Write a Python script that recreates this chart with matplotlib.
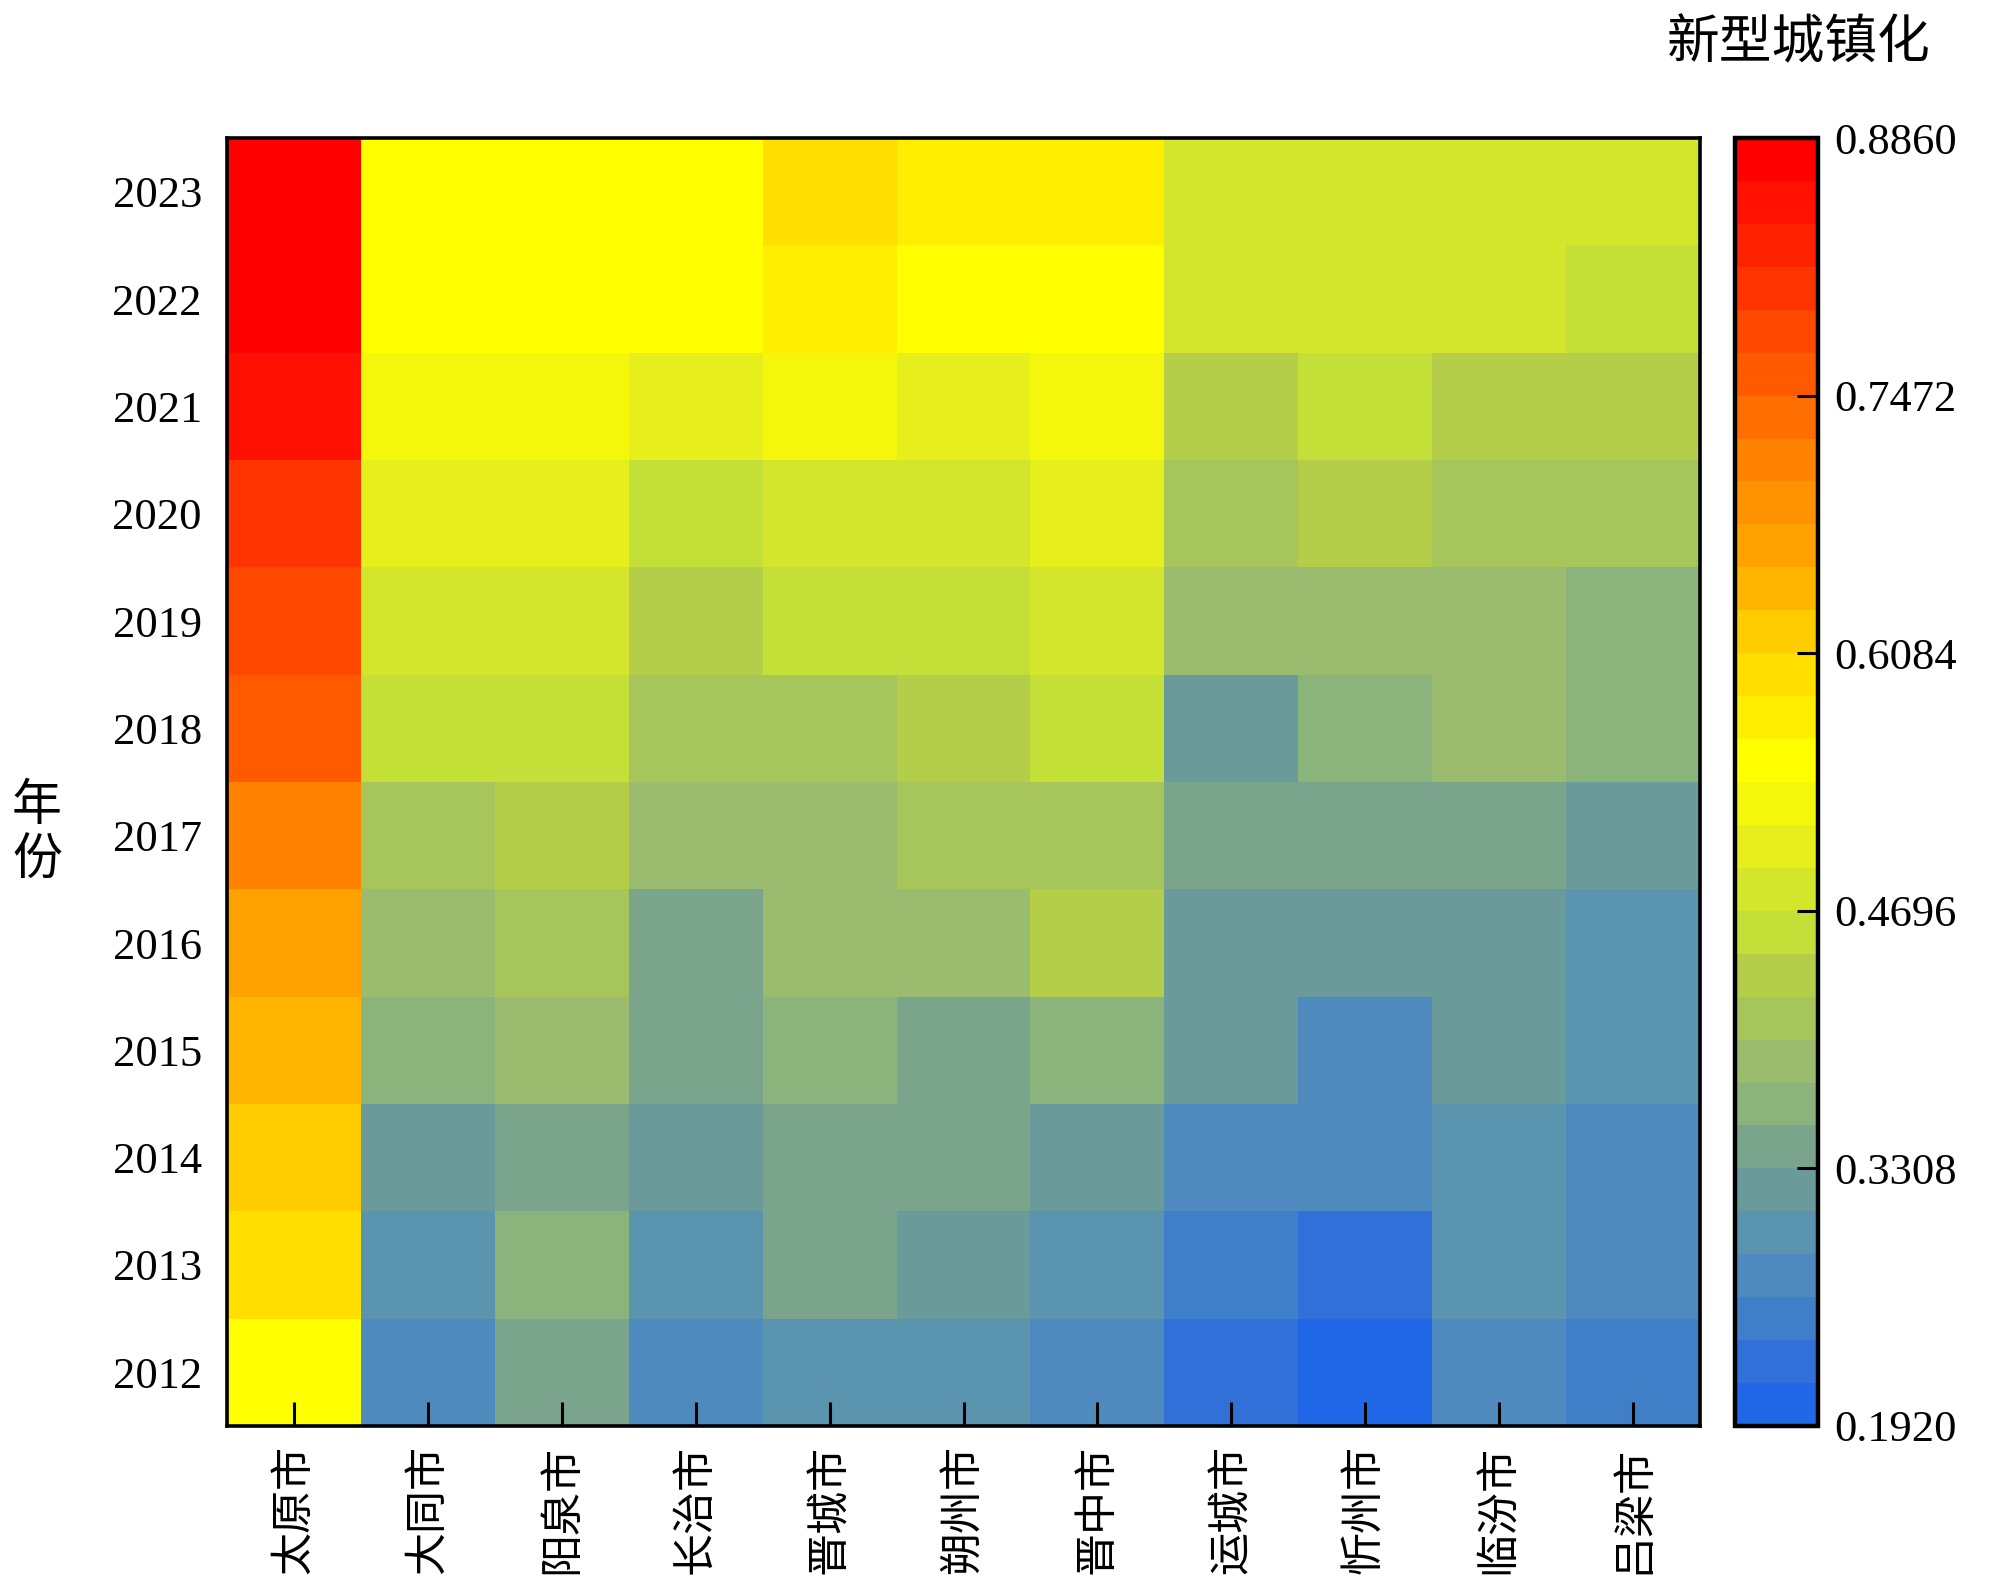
import numpy as np
import matplotlib
matplotlib.use("Agg")
import matplotlib.pyplot as plt
from matplotlib.colors import ListedColormap, BoundaryNorm

CJK = "Noto Sans CJK SC"
SERIF = "Liberation Serif"

cities = ["太原市", "大同市", "阳泉市", "长治市", "晋城市", "朔州市",
          "晋中市", "运城市", "忻州市", "临汾市", "吕梁市"]
years = [2012, 2013, 2014, 2015, 2016, 2017, 2018, 2019, 2020, 2021, 2022, 2023]

# 新型城镇化 index, 2012 -> 2023
taiyuan  = [0.551, 0.598, 0.621, 0.644, 0.667, 0.713, 0.759, 0.781, 0.806, 0.852, 0.875, 0.886]
datong   = [0.273, 0.297, 0.319, 0.366, 0.388, 0.412, 0.459, 0.482, 0.504, 0.528, 0.551, 0.552]
yangquan = [0.343, 0.365, 0.341, 0.389, 0.411, 0.435, 0.457, 0.480, 0.503, 0.527, 0.550, 0.553]
changzhi = [0.274, 0.296, 0.320, 0.342, 0.344, 0.388, 0.413, 0.434, 0.458, 0.505, 0.549, 0.551]
jincheng = [0.297, 0.342, 0.343, 0.365, 0.387, 0.390, 0.411, 0.459, 0.481, 0.526, 0.574, 0.597]
shuozhou = [0.296, 0.318, 0.342, 0.344, 0.389, 0.412, 0.435, 0.457, 0.482, 0.504, 0.551, 0.573]
jinzhong = [0.272, 0.295, 0.320, 0.366, 0.434, 0.411, 0.458, 0.481, 0.505, 0.527, 0.552, 0.575]
yuncheng = [0.227, 0.250, 0.273, 0.318, 0.320, 0.343, 0.319, 0.388, 0.412, 0.434, 0.480, 0.482]
xinzhou  = [0.192, 0.226, 0.272, 0.274, 0.319, 0.342, 0.366, 0.389, 0.435, 0.458, 0.481, 0.483]
linfen   = [0.273, 0.296, 0.297, 0.318, 0.320, 0.344, 0.387, 0.389, 0.411, 0.435, 0.480, 0.482]
lvliang  = [0.250, 0.272, 0.274, 0.295, 0.297, 0.319, 0.365, 0.367, 0.412, 0.433, 0.457, 0.481]

series = [taiyuan, datong, yangquan, changzhi, jincheng, shuozhou,
          jinzhong, yuncheng, xinzhou, linfen, lvliang]
values = np.array(series).T   # rows = years, cols = cities

vmin, vmax = 0.192, 0.886
nlev = 30
cbar_ticks = [0.1920, 0.3308, 0.4696, 0.6084, 0.7472, 0.8860]

palette = [
    (32, 104, 232), (48, 112, 216), (63, 127, 200), (78, 138, 190), (90, 148, 174),
    (106, 154, 154), (123, 164, 140), (138, 180, 124), (155, 188, 110), (166, 198, 92),
    (180, 206, 74), (196, 224, 56), (212, 230, 44), (230, 238, 28), (244, 246, 12),
    (255, 255, 0), (255, 238, 0), (255, 222, 0), (255, 204, 0), (255, 180, 0),
    (255, 162, 0), (255, 146, 0), (255, 130, 0), (255, 110, 0), (255, 90, 0),
    (255, 72, 0), (255, 52, 0), (255, 34, 0), (255, 16, 0), (255, 0, 0),
]
cmap = ListedColormap([tuple(c / 255 for c in rgb) for rgb in palette])
cmap.set_over(cmap(nlev - 1))
cmap.set_under(cmap(0))
bounds = np.linspace(vmin, vmax, nlev + 1)
norm = BoundaryNorm(bounds, nlev)

fig = plt.figure(figsize=(20, 15.94), dpi=100)
ax = fig.add_axes([0.1135, 0.1054, 0.7365, 0.808])
cax = fig.add_axes([0.8675, 0.1054, 0.0415, 0.808])

mesh = ax.pcolormesh(np.arange(len(cities) + 1), np.arange(len(years) + 1),
                     values, cmap=cmap, norm=norm)
ax.set_xlim(0, len(cities))
ax.set_ylim(0, len(years))

ax.set_xticks(np.arange(len(cities)) + 0.5)
ax.set_xticklabels(cities, rotation=90, fontfamily=CJK, fontsize=31)
ax.set_yticks(np.arange(len(years)) + 0.5)
ax.set_yticklabels([str(y) for y in years], fontfamily=SERIF, fontsize=32)
ax.tick_params(axis="x", direction="in", length=17, width=2.2, pad=14)
ax.tick_params(axis="y", length=0, pad=18)
for sp in ax.spines.values():
    sp.set_linewidth(2.6)

cb = fig.colorbar(mesh, cax=cax, ticks=cbar_ticks)
cb.outline.set_linewidth(3.2)
cax.tick_params(axis="y", direction="in", length=15, width=2.2, pad=12,
                labelsize=32, right=True, left=False)
cax.set_yticklabels(["%.4f" % t for t in cbar_ticks], fontfamily=SERIF)
cax.minorticks_off()

fig.text(0.8995, 1 - 43 / 1594, "新型城镇化", fontfamily=CJK, fontsize=38,
         ha="center", va="center")
fig.text(37 / 2000, 1 - 833 / 1594, "年\n份", fontfamily=CJK, fontsize=36,
         ha="center", va="center", linespacing=1.05)

fig.savefig("out.png", dpi=100)
